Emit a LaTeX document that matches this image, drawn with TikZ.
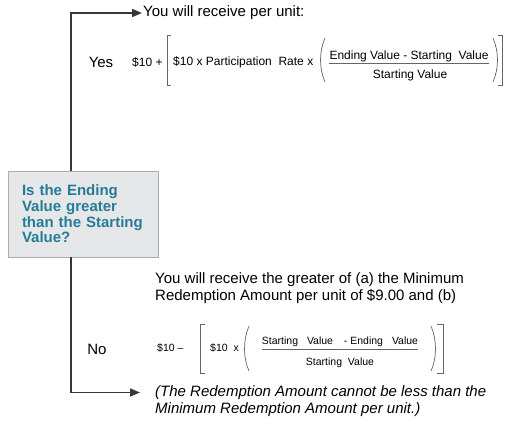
\documentclass[tikz,border=0pt]{standalone}
\usepackage{fontspec}
\setmainfont{Liberation Sans}
\usetikzlibrary{arrows.meta}
\definecolor{qteal}{RGB}{38,124,152}
\definecolor{qfill}{RGB}{229,231,233}
\definecolor{qedge}{RGB}{170,172,175}
\definecolor{flowline}{RGB}{55,55,55}
\begin{document}
\begin{tikzpicture}[x=1pt,y=-1pt,
  body/.style={font=\fontsize{15}{17}\selectfont, inner sep=0pt, anchor=west, align=left},
  formula/.style={font=\fontsize{12}{14}\selectfont, inner sep=0pt},
  small/.style={font=\fontsize{10.5}{12}\selectfont, inner sep=0pt},
  brace/.style={draw=black!60, line width=0.7pt},
  flow/.style={draw=flowline, line width=1.6pt, -{Triangle[length=10pt,width=8pt]}},
  qbox/.style={draw=qedge, fill=qfill, line width=0.8pt, text=qteal,
    font=\bfseries\fontsize{15}{15.7}\selectfont, align=left,
    minimum width=150pt, minimum height=86pt, text width=122pt, inner xsep=14pt}]
\useasboundingbox (0,0) rectangle (508,436);
\coordinate (trunk) at (71,0);
% the question
\node[qbox] (q) at (83,214) {Is the Ending\\Value greater\\than the Starting\\Value?};
% yes branch
\node[body] (yeshead) at (143,13) {You will receive per unit:};
\node[body, anchor=center] (yes) at (101,62) {Yes};
\node[formula, anchor=west] (yesbase) at (132,62) {\$10 +};
\node[formula, anchor=west] (yesrate) at (173,62) {\$10 x Participation\ \ Rate x};
\node[formula] (yesnum) at (409,56) {Ending Value - Starting\ \ Value};
\node[formula] (yesden) at (410,75) {Starting Value};
\draw[brace] ([yshift=-2pt]yesnum.south west) -- ([yshift=-2pt]yesnum.south east);
\draw[brace] (171,35) -| (167,85) -- (171,85);
\draw[brace] (498,35) -| (502,85) -- (498,85);
\draw[brace] (325,38) .. controls (319,52) and (319,68) .. (325,82);
\draw[brace] (493,38) .. controls (499,52) and (499,68) .. (493,82);
% no branch
\node[body] (notext) at (155,288) {You will receive the greater of (a) the Minimum\\Redemption Amount per unit of \$9.00 and (b)};
\node[body, anchor=center] (no) at (97,349) {No};
\node[small, anchor=west] (nobase) at (157,348) {\$10 --};
\node[small, anchor=west] (norate) at (210,348) {\$10\ \ x};
\node[small] (nonum) at (340,342) {Starting\hspace{6pt} Value\hspace{8pt} - Ending\hspace{6pt} Value};
\node[small] (noden) at (340,363) {Starting\ \ Value};
\draw[brace] ([yshift=-2pt]nonum.south west) -- ([yshift=-2pt]nonum.south east);
\draw[brace] (205,324) -| (200,373) -- (205,373);
\draw[brace] (437,324) -| (443,373) -- (437,373);
\draw[brace] (249,326) .. controls (243,340) and (243,358) .. (249,371);
\draw[brace] (431,326) .. controls (437,340) and (437,358) .. (431,371);
\node[body, font=\fontsize{15}{17}\selectfont\itshape] (nohead) at (155,401) {(The Redemption Amount cannot be less than the\\Minimum Redemption Amount per unit.)};
% connectors
\draw[flow] (q.north -| trunk) |- ([xshift=-1pt]yeshead.west);
\draw[flow] (q.south -| trunk) |- ([shift={(-15pt,8.5pt)}]nohead.west);
\end{tikzpicture}
\end{document}
